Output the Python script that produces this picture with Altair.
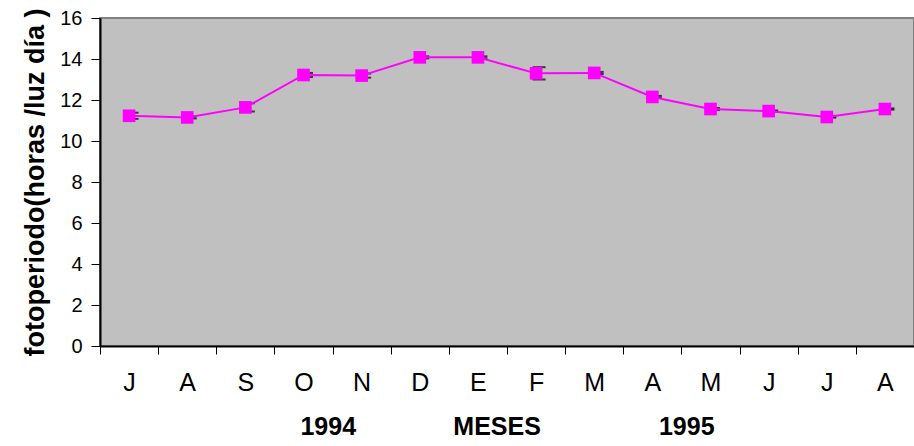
import altair as alt
import pandas as pd

meses = ["J", "A", "S", "O", "N", "D", "E", "F", "M", "A", "M", "J", "J", "A"]
claves = ["Jul94", "Ago94", "Sep94", "Oct94", "Nov94", "Dic94", "Ene95",
          "Feb95", "Mar95", "Abr95", "May95", "Jun95", "Jul95", "Ago95"]
fotoperiodo = [11.23, 11.15, 11.64, 13.22, 13.19, 14.08, 14.08,
               13.30, 13.32, 12.15, 11.56, 11.46, 11.17, 11.56]
error = [0.15, 0.05, 0.20, 0.10, 0.10, 0.05, 0.05,
         0.30, 0.05, 0.05, 0.05, 0.03, 0.03, 0.03]
y_ticks = [0, 2, 4, 6, 8, 10, 12, 14, 16]

df = pd.DataFrame({"clave": claves, "mes": meses, "v": fotoperiodo, "e": error})
df["lo"] = df["v"] - df["e"]
df["hi"] = df["v"] + df["e"]

mapping = "{" + ",".join(f"'{k}':'{m}'" for k, m in zip(claves, meses)) + "}"
nb = "\u00a0"
x_title = "1994" + nb * 14 + "MESES" + nb * 17 + "1995"

x = alt.X(
    "clave:N", sort=claves,
    scale=alt.Scale(type="band", paddingInner=0, paddingOuter=0),
    axis=alt.Axis(
        title=x_title, labelExpr=mapping + "[datum.value]", labelAngle=0,
        tickBand="extent", tickSize=8, tickColor="black", tickWidth=1,
        domainColor="black", domainWidth=2,
        labelFont="Liberation Sans", labelFontSize=25, labelColor="black",
        labelPadding=16,
        titleFont="Liberation Sans", titleFontSize=25, titleFontWeight="bold",
        titleColor="black", titlePadding=19,
    ),
)
y_scale = alt.Scale(domain=[0, 16], nice=False)
y = alt.Y(
    "v:Q", scale=y_scale,
    axis=alt.Axis(
        title="fotoperiodo(horas /luz día )", values=y_ticks, grid=False,
        tickSize=9, tickColor="black", domainColor="black", domainWidth=2,
        labelFont="Liberation Sans", labelFontSize=20, labelColor="black",
        labelPadding=9,
        titleFont="Liberation Sans", titleFontSize=27, titleFontWeight="bold",
        titleColor="black", titlePadding=10,
    ),
)

base = alt.Chart(df)
rules = base.mark_rule(color="black", strokeWidth=1.5, xOffset=3).encode(
    x=x, y=alt.Y("lo:Q", scale=y_scale), y2="hi:Q")
cap_lo = base.mark_tick(color="black", thickness=2, size=13, xOffset=3,
                        orient="horizontal").encode(x=x, y=alt.Y("lo:Q", scale=y_scale))
cap_hi = base.mark_tick(color="black", thickness=2, size=13, xOffset=3,
                        orient="horizontal").encode(x=x, y=alt.Y("hi:Q", scale=y_scale))
line = base.mark_line(color="#FF00FF", strokeWidth=2).encode(x=x, y=y)
pts = base.mark_point(shape="square", filled=True, opacity=1, color="#FF00FF",
                      size=160).encode(x=x, y=y)

chart = alt.layer(rules, cap_lo, cap_hi, line, pts).properties(
    width=814, height=328,
    autosize=alt.AutoSizeParams(type="none"),
    padding={"left": 100, "top": 18, "right": 0, "bottom": 100},
    background="white",
).configure_view(fill="#C0C0C0", stroke="#808080", strokeWidth=2)

chart.save("out.html", embed_options={"renderer": "svg", "actions": False})
